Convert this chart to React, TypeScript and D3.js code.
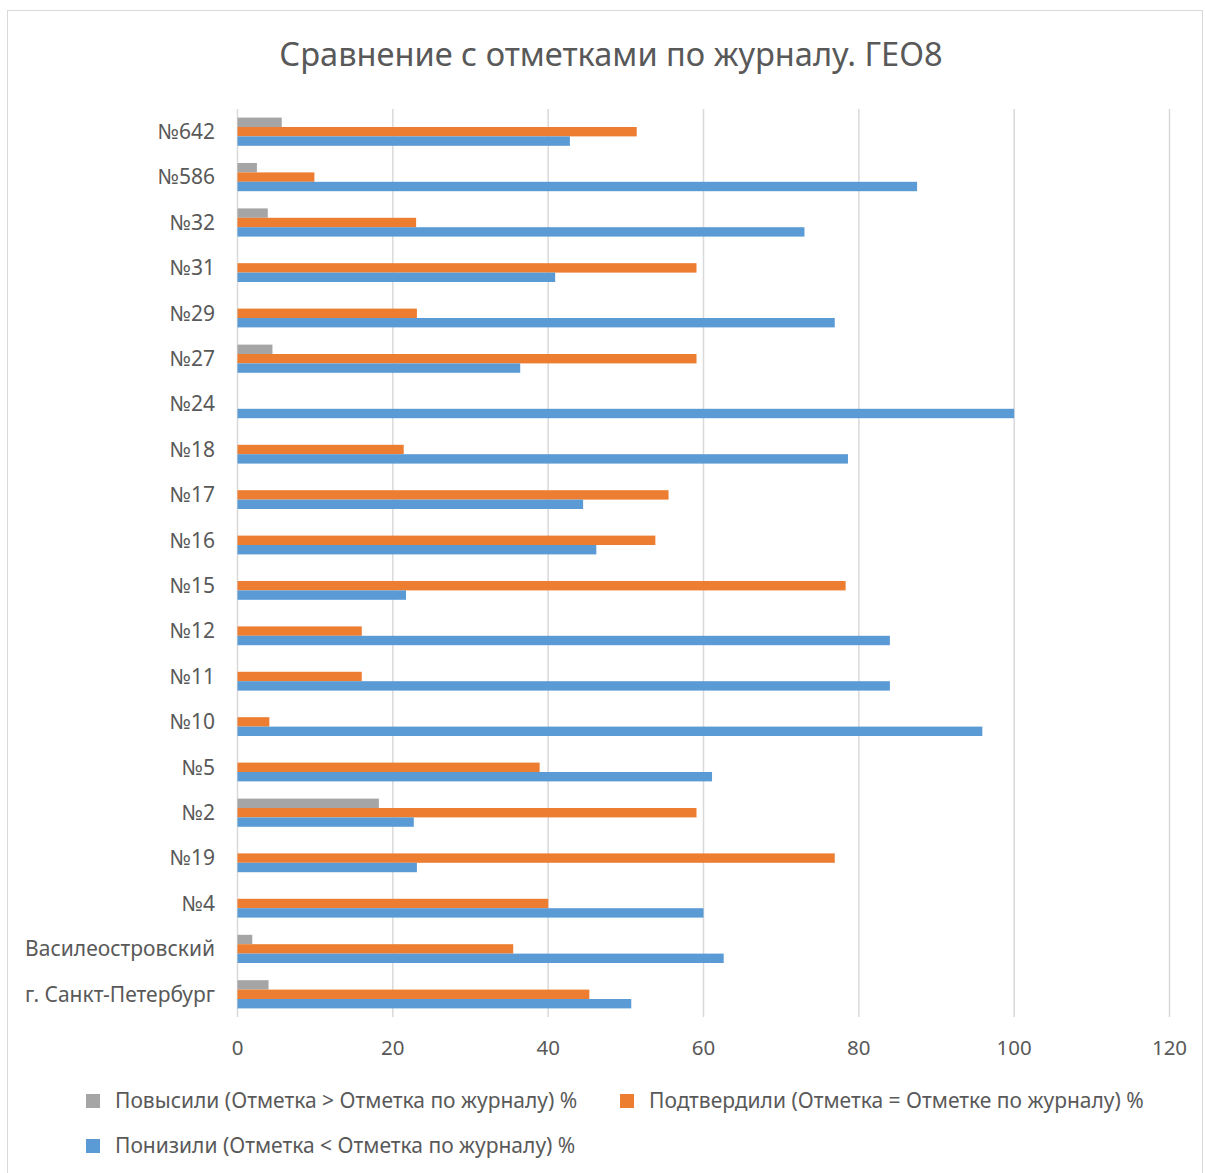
import React from "react";
import * as d3 from "d3";

const categories = ["№642","№586","№32","№31","№29","№27","№24","№18","№17","№16","№15","№12","№11","№10","№5","№2","№19","№4","Василеостровский","г. Санкт-Петербург"];
const raised = [5.7,2.5,3.9,0,0,4.5,0,0,0,0,0,0,0,0,0,18.2,0,0,1.9,4.0];
const confirmed = [51.4,9.9,23.0,59.1,23.1,59.1,0,21.4,55.5,53.8,78.3,16.0,16.0,4.1,38.9,59.1,76.9,40.0,35.5,45.3];
const lowered = [42.8,87.5,73.0,40.9,76.9,36.4,100,78.6,44.5,46.2,21.7,84.0,84.0,95.9,61.1,22.7,23.1,60.0,62.6,50.7];
const seriesNames = [
  "Повысили (Отметка > Отметка по журналу) %",
  "Подтвердили (Отметка = Отметке по журналу) %",
  "Понизили (Отметка < Отметка по журналу) %",
];
const seriesColors = ["#A5A5A5", "#ED7D31", "#5B9BD5"];
const xTicks = [0, 20, 40, 60, 80, 100, 120];
const title = "Сравнение с отметками по журналу. ГЕО8";

const W = 1205, H = 1173;
const FONT = "'Noto Sans', 'Open Sans', sans-serif";
const TXT = "#595959";

export default function App() {
  const x = d3.scaleLinear().domain([0, 120]).range([237.5, 1169.5]);
  const y = d3.scaleBand<string>().domain(categories).range([109, 1017]).padding(0);
  const sub = d3.scaleBand<number>().domain([0, 1, 2]).range([0, y.step()]).paddingInner(0).paddingOuter(0.915);
  const series = [raised, confirmed, lowered];

  return (
    <svg width={W} height={H} style={{ position: "absolute", left: 0, top: 0, background: "#fff" }} fontFamily={FONT}>
      <rect x={0} y={0} width={W} height={H} fill="#fff" />
      <rect x={7.5} y={10.5} width={1195} height={1175} fill="#fff" stroke="#D9D9D9" strokeWidth={1} />
      <text x={611} y={66} textAnchor="middle" fontSize={32.6} fill={TXT}>{title}</text>
      {xTicks.map((t) => (
        <g key={t}>
          <line x1={x(t)} x2={x(t)} y1={109} y2={1017} stroke="#D9D9D9" strokeWidth={1.5} />
          <text x={x(t)} y={1055} textAnchor="middle" fontSize={20.5} fill={TXT}>{t}</text>
        </g>
      ))}
      {categories.map((c, i) => (
        <g key={c}>
          <text x={215} y={(y(c) as number) + y.step() / 2} dy="0.35em" textAnchor="end" fontSize={21} fill={TXT}>{c}</text>
          {series.map((s, k) =>
            s[i] > 0 ? (
              <rect key={k} x={x(0)} y={(y(c) as number) + (sub(k) as number)} width={x(s[i]) - x(0)} height={sub.bandwidth()} fill={seriesColors[k]} />
            ) : null
          )}
        </g>
      ))}
      {[
        { k: 0, lx: 86, ly: 1101 },
        { k: 1, lx: 620, ly: 1101 },
        { k: 2, lx: 86, ly: 1146 },
      ].map(({ k, lx, ly }) => (
        <g key={k}>
          <rect x={lx} y={ly - 7} width={14} height={14} fill={seriesColors[k]} />
          <text x={lx + 29} y={ly} dy="0.35em" fontSize={21} fill={TXT}>{seriesNames[k]}</text>
        </g>
      ))}
    </svg>
  );
}
